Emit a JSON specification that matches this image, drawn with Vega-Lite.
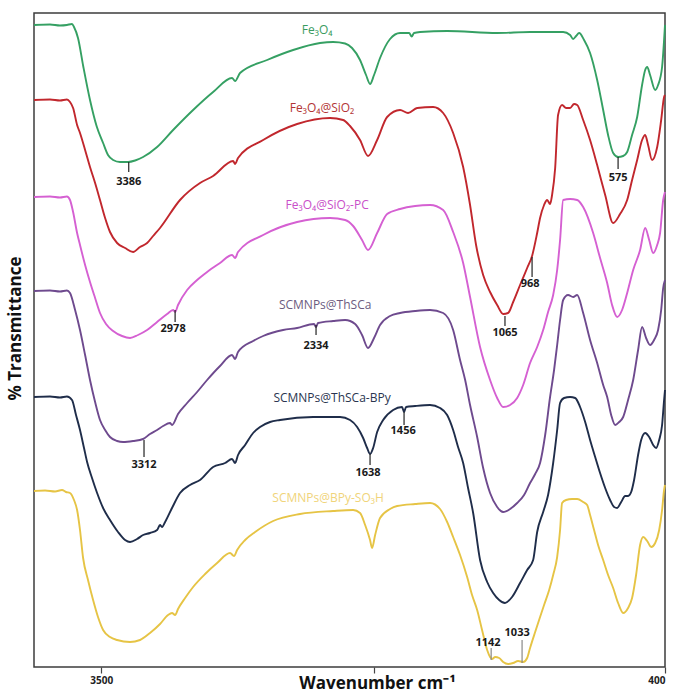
{
  "$schema": "https://vega.github.io/schema/vega-lite/v6.json",
  "width": 631,
  "height": 654,
  "autosize": "none",
  "padding": {"left": 34, "top": 13, "right": 10, "bottom": 26},
  "background": "white",
  "config": {"view": {"stroke": "#3c3c3c", "strokeWidth": 1.5}},
  "datasets": {
    "spectra": [
      {"s":"Fe3O4","w":3870,"t":128.4},{"s":"Fe3O4","w":3782,"t":128.5},{"s":"Fe3O4","w":3727,"t":128.3},{"s":"Fe3O4","w":3689,"t":128.4},{"s":"Fe3O4","w":3661,"t":128.6},{"s":"Fe3O4","w":3650,"t":128.0},{"s":"Fe3O4","w":3628,"t":125.8},{"s":"Fe3O4","w":3599,"t":120.1},{"s":"Fe3O4","w":3562,"t":113.4},{"s":"Fe3O4","w":3525,"t":108.1},{"s":"Fe3O4","w":3490,"t":104.8},{"s":"Fe3O4","w":3463,"t":102.4},{"s":"Fe3O4","w":3435,"t":101.4},{"s":"Fe3O4","w":3397,"t":101.0},{"s":"Fe3O4","w":3353,"t":101.0},{"s":"Fe3O4","w":3314,"t":101.3},{"s":"Fe3O4","w":3270,"t":102.0},{"s":"Fe3O4","w":3193,"t":104.0},{"s":"Fe3O4","w":3105,"t":107.4},{"s":"Fe3O4","w":2995,"t":111.4},{"s":"Fe3O4","w":2885,"t":115.0},{"s":"Fe3O4","w":2781,"t":117.8},{"s":"Fe3O4","w":2764,"t":117.2},{"s":"Fe3O4","w":2737,"t":118.8},{"s":"Fe3O4","w":2588,"t":121.4},{"s":"Fe3O4","w":2445,"t":123.4},{"s":"Fe3O4","w":2297,"t":124.8},{"s":"Fe3O4","w":2225,"t":125.0},{"s":"Fe3O4","w":2159,"t":124.7},{"s":"Fe3O4","w":2121,"t":123.8},{"s":"Fe3O4","w":2077,"t":121.4},{"s":"Fe3O4","w":2044,"t":118.4},{"s":"Fe3O4","w":2022,"t":116.6},{"s":"Fe3O4","w":2000,"t":118.4},{"s":"Fe3O4","w":1967,"t":121.8},{"s":"Fe3O4","w":1912,"t":125.6},{"s":"Fe3O4","w":1857,"t":126.8},{"s":"Fe3O4","w":1807,"t":126.8},{"s":"Fe3O4","w":1793,"t":126.1},{"s":"Fe3O4","w":1780,"t":126.8},{"s":"Fe3O4","w":1747,"t":127.0},{"s":"Fe3O4","w":1598,"t":127.2},{"s":"Fe3O4","w":1323,"t":126.8},{"s":"Fe3O4","w":1142,"t":127.0},{"s":"Fe3O4","w":960,"t":127.0},{"s":"Fe3O4","w":922,"t":126.4},{"s":"Fe3O4","w":905,"t":125.6},{"s":"Fe3O4","w":889,"t":126.2},{"s":"Fe3O4","w":872,"t":126.8},{"s":"Fe3O4","w":845,"t":125.4},{"s":"Fe3O4","w":812,"t":122.8},{"s":"Fe3O4","w":773,"t":117.4},{"s":"Fe3O4","w":740,"t":111.4},{"s":"Fe3O4","w":713,"t":106.4},{"s":"Fe3O4","w":685,"t":102.8},{"s":"Fe3O4","w":658,"t":102.0},{"s":"Fe3O4","w":630,"t":102.2},{"s":"Fe3O4","w":608,"t":103.0},{"s":"Fe3O4","w":581,"t":106.4},{"s":"Fe3O4","w":553,"t":110.0},{"s":"Fe3O4","w":526,"t":116.4},{"s":"Fe3O4","w":509,"t":119.4},{"s":"Fe3O4","w":498,"t":120.0},{"s":"Fe3O4","w":482,"t":118.4},{"s":"Fe3O4","w":454,"t":115.4},{"s":"Fe3O4","w":438,"t":116.4},{"s":"Fe3O4","w":416,"t":120.0},{"s":"Fe3O4","w":405,"t":125.4},{"s":"Fe3O4","w":400,"t":128.4},

      {"s":"Fe3O4@SiO2","w":3870,"t":113.4},{"s":"Fe3O4@SiO2","w":3782,"t":113.5},{"s":"Fe3O4@SiO2","w":3727,"t":113.3},{"s":"Fe3O4@SiO2","w":3689,"t":113.5},{"s":"Fe3O4@SiO2","w":3672,"t":113.0},{"s":"Fe3O4@SiO2","w":3655,"t":111.8},{"s":"Fe3O4@SiO2","w":3633,"t":108.4},{"s":"Fe3O4@SiO2","w":3617,"t":106.8},{"s":"Fe3O4@SiO2","w":3589,"t":103.4},{"s":"Fe3O4@SiO2","w":3562,"t":100.0},{"s":"Fe3O4@SiO2","w":3534,"t":96.8},{"s":"Fe3O4@SiO2","w":3507,"t":93.4},{"s":"Fe3O4@SiO2","w":3479,"t":89.8},{"s":"Fe3O4@SiO2","w":3452,"t":87.0},{"s":"Fe3O4@SiO2","w":3413,"t":84.8},{"s":"Fe3O4@SiO2","w":3369,"t":83.8},{"s":"Fe3O4@SiO2","w":3325,"t":83.0},{"s":"Fe3O4@SiO2","w":3287,"t":84.0},{"s":"Fe3O4@SiO2","w":3248,"t":84.8},{"s":"Fe3O4@SiO2","w":3215,"t":86.2},{"s":"Fe3O4@SiO2","w":3177,"t":87.8},{"s":"Fe3O4@SiO2","w":3067,"t":93.4},{"s":"Fe3O4@SiO2","w":2957,"t":96.8},{"s":"Fe3O4@SiO2","w":2885,"t":98.2},{"s":"Fe3O4@SiO2","w":2775,"t":101.2},{"s":"Fe3O4@SiO2","w":2764,"t":100.6},{"s":"Fe3O4@SiO2","w":2748,"t":101.8},{"s":"Fe3O4@SiO2","w":2610,"t":105.4},{"s":"Fe3O4@SiO2","w":2423,"t":108.6},{"s":"Fe3O4@SiO2","w":2242,"t":109.8},{"s":"Fe3O4@SiO2","w":2170,"t":109.4},{"s":"Fe3O4@SiO2","w":2132,"t":108.2},{"s":"Fe3O4@SiO2","w":2077,"t":105.4},{"s":"Fe3O4@SiO2","w":2033,"t":102.2},{"s":"Fe3O4@SiO2","w":1983,"t":105.4},{"s":"Fe3O4@SiO2","w":1928,"t":110.0},{"s":"Fe3O4@SiO2","w":1857,"t":111.4},{"s":"Fe3O4@SiO2","w":1813,"t":110.8},{"s":"Fe3O4@SiO2","w":1763,"t":111.8},{"s":"Fe3O4@SiO2","w":1675,"t":112.0},{"s":"Fe3O4@SiO2","w":1620,"t":110.8},{"s":"Fe3O4@SiO2","w":1565,"t":106.8},{"s":"Fe3O4@SiO2","w":1510,"t":100.0},{"s":"Fe3O4@SiO2","w":1472,"t":92.4},{"s":"Fe3O4@SiO2","w":1439,"t":84.4},{"s":"Fe3O4@SiO2","w":1400,"t":78.4},{"s":"Fe3O4@SiO2","w":1362,"t":75.0},{"s":"Fe3O4@SiO2","w":1323,"t":72.4},{"s":"Fe3O4@SiO2","w":1290,"t":70.6},{"s":"Fe3O4@SiO2","w":1263,"t":70.8},{"s":"Fe3O4@SiO2","w":1235,"t":73.0},{"s":"Fe3O4@SiO2","w":1197,"t":76.4},{"s":"Fe3O4@SiO2","w":1158,"t":79.8},{"s":"Fe3O4@SiO2","w":1131,"t":82.2},{"s":"Fe3O4@SiO2","w":1103,"t":86.8},{"s":"Fe3O4@SiO2","w":1087,"t":89.8},{"s":"Fe3O4@SiO2","w":1065,"t":92.4},{"s":"Fe3O4@SiO2","w":1048,"t":93.4},{"s":"Fe3O4@SiO2","w":1032,"t":92.6},{"s":"Fe3O4@SiO2","w":1021,"t":94.4},{"s":"Fe3O4@SiO2","w":1004,"t":99.8},{"s":"Fe3O4@SiO2","w":988,"t":110.4},{"s":"Fe3O4@SiO2","w":966,"t":112.4},{"s":"Fe3O4@SiO2","w":944,"t":111.8},{"s":"Fe3O4@SiO2","w":922,"t":111.8},{"s":"Fe3O4@SiO2","w":900,"t":112.6},{"s":"Fe3O4@SiO2","w":883,"t":112.4},{"s":"Fe3O4@SiO2","w":850,"t":109.4},{"s":"Fe3O4@SiO2","w":812,"t":105.4},{"s":"Fe3O4@SiO2","w":773,"t":100.4},{"s":"Fe3O4@SiO2","w":729,"t":94.4},{"s":"Fe3O4@SiO2","w":685,"t":88.8},{"s":"Fe3O4@SiO2","w":647,"t":90.6},{"s":"Fe3O4@SiO2","w":608,"t":93.4},{"s":"Fe3O4@SiO2","w":581,"t":97.4},{"s":"Fe3O4@SiO2","w":553,"t":101.4},{"s":"Fe3O4@SiO2","w":526,"t":105.4},{"s":"Fe3O4@SiO2","w":509,"t":106.4},{"s":"Fe3O4@SiO2","w":493,"t":104.4},{"s":"Fe3O4@SiO2","w":471,"t":101.4},{"s":"Fe3O4@SiO2","w":443,"t":104.0},{"s":"Fe3O4@SiO2","w":421,"t":109.4},{"s":"Fe3O4@SiO2","w":405,"t":114.0},{"s":"Fe3O4@SiO2","w":400,"t":114.4},

      {"s":"Fe3O4@SiO2-PC","w":3870,"t":94.0},{"s":"Fe3O4@SiO2-PC","w":3782,"t":94.1},{"s":"Fe3O4@SiO2-PC","w":3727,"t":93.9},{"s":"Fe3O4@SiO2-PC","w":3689,"t":94.1},{"s":"Fe3O4@SiO2-PC","w":3672,"t":93.4},{"s":"Fe3O4@SiO2-PC","w":3655,"t":91.0},{"s":"Fe3O4@SiO2-PC","w":3633,"t":86.8},{"s":"Fe3O4@SiO2-PC","w":3617,"t":84.4},{"s":"Fe3O4@SiO2-PC","w":3589,"t":80.4},{"s":"Fe3O4@SiO2-PC","w":3562,"t":77.0},{"s":"Fe3O4@SiO2-PC","w":3534,"t":73.8},{"s":"Fe3O4@SiO2-PC","w":3507,"t":70.8},{"s":"Fe3O4@SiO2-PC","w":3474,"t":68.6},{"s":"Fe3O4@SiO2-PC","w":3435,"t":67.2},{"s":"Fe3O4@SiO2-PC","w":3386,"t":66.2},{"s":"Fe3O4@SiO2-PC","w":3342,"t":65.8},{"s":"Fe3O4@SiO2-PC","w":3298,"t":66.4},{"s":"Fe3O4@SiO2-PC","w":3248,"t":67.4},{"s":"Fe3O4@SiO2-PC","w":3193,"t":69.0},{"s":"Fe3O4@SiO2-PC","w":3138,"t":70.6},{"s":"Fe3O4@SiO2-PC","w":3105,"t":71.4},{"s":"Fe3O4@SiO2-PC","w":3094,"t":71.0},{"s":"Fe3O4@SiO2-PC","w":3078,"t":72.4},{"s":"Fe3O4@SiO2-PC","w":3028,"t":75.4},{"s":"Fe3O4@SiO2-PC","w":2973,"t":77.4},{"s":"Fe3O4@SiO2-PC","w":2918,"t":79.0},{"s":"Fe3O4@SiO2-PC","w":2847,"t":80.8},{"s":"Fe3O4@SiO2-PC","w":2781,"t":82.4},{"s":"Fe3O4@SiO2-PC","w":2764,"t":81.8},{"s":"Fe3O4@SiO2-PC","w":2748,"t":83.0},{"s":"Fe3O4@SiO2-PC","w":2610,"t":86.4},{"s":"Fe3O4@SiO2-PC","w":2423,"t":89.0},{"s":"Fe3O4@SiO2-PC","w":2242,"t":89.8},{"s":"Fe3O4@SiO2-PC","w":2159,"t":89.4},{"s":"Fe3O4@SiO2-PC","w":2115,"t":88.2},{"s":"Fe3O4@SiO2-PC","w":2066,"t":85.4},{"s":"Fe3O4@SiO2-PC","w":2033,"t":83.4},{"s":"Fe3O4@SiO2-PC","w":1983,"t":86.8},{"s":"Fe3O4@SiO2-PC","w":1928,"t":90.6},{"s":"Fe3O4@SiO2-PC","w":1857,"t":91.6},{"s":"Fe3O4@SiO2-PC","w":1774,"t":92.2},{"s":"Fe3O4@SiO2-PC","w":1692,"t":92.4},{"s":"Fe3O4@SiO2-PC","w":1620,"t":91.4},{"s":"Fe3O4@SiO2-PC","w":1565,"t":87.0},{"s":"Fe3O4@SiO2-PC","w":1510,"t":80.8},{"s":"Fe3O4@SiO2-PC","w":1472,"t":74.0},{"s":"Fe3O4@SiO2-PC","w":1417,"t":64.0},{"s":"Fe3O4@SiO2-PC","w":1362,"t":57.4},{"s":"Fe3O4@SiO2-PC","w":1323,"t":53.8},{"s":"Fe3O4@SiO2-PC","w":1290,"t":52.0},{"s":"Fe3O4@SiO2-PC","w":1252,"t":52.4},{"s":"Fe3O4@SiO2-PC","w":1213,"t":53.8},{"s":"Fe3O4@SiO2-PC","w":1180,"t":56.4},{"s":"Fe3O4@SiO2-PC","w":1142,"t":60.8},{"s":"Fe3O4@SiO2-PC","w":1103,"t":64.0},{"s":"Fe3O4@SiO2-PC","w":1070,"t":67.4},{"s":"Fe3O4@SiO2-PC","w":1043,"t":71.0},{"s":"Fe3O4@SiO2-PC","w":1015,"t":74.4},{"s":"Fe3O4@SiO2-PC","w":993,"t":79.4},{"s":"Fe3O4@SiO2-PC","w":977,"t":85.4},{"s":"Fe3O4@SiO2-PC","w":960,"t":93.4},{"s":"Fe3O4@SiO2-PC","w":922,"t":93.6},{"s":"Fe3O4@SiO2-PC","w":883,"t":93.4},{"s":"Fe3O4@SiO2-PC","w":850,"t":92.0},{"s":"Fe3O4@SiO2-PC","w":795,"t":86.8},{"s":"Fe3O4@SiO2-PC","w":757,"t":81.8},{"s":"Fe3O4@SiO2-PC","w":718,"t":76.8},{"s":"Fe3O4@SiO2-PC","w":691,"t":72.4},{"s":"Fe3O4@SiO2-PC","w":663,"t":70.0},{"s":"Fe3O4@SiO2-PC","w":636,"t":71.4},{"s":"Fe3O4@SiO2-PC","w":608,"t":74.8},{"s":"Fe3O4@SiO2-PC","w":575,"t":79.4},{"s":"Fe3O4@SiO2-PC","w":537,"t":83.4},{"s":"Fe3O4@SiO2-PC","w":509,"t":87.8},{"s":"Fe3O4@SiO2-PC","w":487,"t":85.4},{"s":"Fe3O4@SiO2-PC","w":465,"t":82.8},{"s":"Fe3O4@SiO2-PC","w":443,"t":84.4},{"s":"Fe3O4@SiO2-PC","w":427,"t":86.8},{"s":"Fe3O4@SiO2-PC","w":410,"t":93.4},{"s":"Fe3O4@SiO2-PC","w":400,"t":95.0},

      {"s":"SCMNPs@ThSCa","w":3870,"t":75.2},{"s":"SCMNPs@ThSCa","w":3782,"t":75.3},{"s":"SCMNPs@ThSCa","w":3727,"t":75.1},{"s":"SCMNPs@ThSCa","w":3689,"t":75.3},{"s":"SCMNPs@ThSCa","w":3672,"t":74.8},{"s":"SCMNPs@ThSCa","w":3644,"t":71.4},{"s":"SCMNPs@ThSCa","w":3617,"t":67.4},{"s":"SCMNPs@ThSCa","w":3589,"t":62.4},{"s":"SCMNPs@ThSCa","w":3562,"t":57.4},{"s":"SCMNPs@ThSCa","w":3534,"t":53.0},{"s":"SCMNPs@ThSCa","w":3507,"t":49.4},{"s":"SCMNPs@ThSCa","w":3479,"t":47.4},{"s":"SCMNPs@ThSCa","w":3452,"t":46.0},{"s":"SCMNPs@ThSCa","w":3413,"t":45.2},{"s":"SCMNPs@ThSCa","w":3380,"t":45.0},{"s":"SCMNPs@ThSCa","w":3325,"t":45.2},{"s":"SCMNPs@ThSCa","w":3270,"t":45.6},{"s":"SCMNPs@ThSCa","w":3232,"t":46.6},{"s":"SCMNPs@ThSCa","w":3193,"t":47.4},{"s":"SCMNPs@ThSCa","w":3160,"t":48.2},{"s":"SCMNPs@ThSCa","w":3122,"t":48.8},{"s":"SCMNPs@ThSCa","w":3111,"t":48.4},{"s":"SCMNPs@ThSCa","w":3078,"t":50.6},{"s":"SCMNPs@ThSCa","w":3028,"t":52.8},{"s":"SCMNPs@ThSCa","w":2973,"t":55.0},{"s":"SCMNPs@ThSCa","w":2918,"t":57.4},{"s":"SCMNPs@ThSCa","w":2847,"t":60.2},{"s":"SCMNPs@ThSCa","w":2781,"t":62.4},{"s":"SCMNPs@ThSCa","w":2764,"t":61.6},{"s":"SCMNPs@ThSCa","w":2748,"t":63.0},{"s":"SCMNPs@ThSCa","w":2665,"t":65.2},{"s":"SCMNPs@ThSCa","w":2610,"t":66.2},{"s":"SCMNPs@ThSCa","w":2500,"t":67.4},{"s":"SCMNPs@ThSCa","w":2423,"t":67.8},{"s":"SCMNPs@ThSCa","w":2330,"t":68.6},{"s":"SCMNPs@ThSCa","w":2319,"t":68.0},{"s":"SCMNPs@ThSCa","w":2308,"t":68.8},{"s":"SCMNPs@ThSCa","w":2225,"t":69.2},{"s":"SCMNPs@ThSCa","w":2159,"t":69.4},{"s":"SCMNPs@ThSCa","w":2104,"t":68.6},{"s":"SCMNPs@ThSCa","w":2066,"t":66.4},{"s":"SCMNPs@ThSCa","w":2033,"t":63.8},{"s":"SCMNPs@ThSCa","w":2000,"t":65.8},{"s":"SCMNPs@ThSCa","w":1967,"t":68.4},{"s":"SCMNPs@ThSCa","w":1912,"t":70.2},{"s":"SCMNPs@ThSCa","w":1857,"t":70.8},{"s":"SCMNPs@ThSCa","w":1774,"t":71.2},{"s":"SCMNPs@ThSCa","w":1692,"t":71.4},{"s":"SCMNPs@ThSCa","w":1620,"t":70.8},{"s":"SCMNPs@ThSCa","w":1565,"t":67.4},{"s":"SCMNPs@ThSCa","w":1527,"t":61.4},{"s":"SCMNPs@ThSCa","w":1499,"t":57.4},{"s":"SCMNPs@ThSCa","w":1472,"t":52.4},{"s":"SCMNPs@ThSCa","w":1433,"t":46.0},{"s":"SCMNPs@ThSCa","w":1400,"t":39.8},{"s":"SCMNPs@ThSCa","w":1362,"t":34.8},{"s":"SCMNPs@ThSCa","w":1323,"t":32.0},{"s":"SCMNPs@ThSCa","w":1290,"t":31.0},{"s":"SCMNPs@ThSCa","w":1252,"t":31.6},{"s":"SCMNPs@ThSCa","w":1213,"t":32.8},{"s":"SCMNPs@ThSCa","w":1175,"t":34.4},{"s":"SCMNPs@ThSCa","w":1142,"t":36.8},{"s":"SCMNPs@ThSCa","w":1114,"t":38.6},{"s":"SCMNPs@ThSCa","w":1087,"t":40.8},{"s":"SCMNPs@ThSCa","w":1059,"t":46.4},{"s":"SCMNPs@ThSCa","w":1032,"t":54.0},{"s":"SCMNPs@ThSCa","w":1010,"t":59.4},{"s":"SCMNPs@ThSCa","w":993,"t":64.4},{"s":"SCMNPs@ThSCa","w":977,"t":69.4},{"s":"SCMNPs@ThSCa","w":960,"t":73.4},{"s":"SCMNPs@ThSCa","w":933,"t":74.4},{"s":"SCMNPs@ThSCa","w":905,"t":74.0},{"s":"SCMNPs@ThSCa","w":883,"t":74.4},{"s":"SCMNPs@ThSCa","w":850,"t":70.8},{"s":"SCMNPs@ThSCa","w":812,"t":65.4},{"s":"SCMNPs@ThSCa","w":773,"t":60.8},{"s":"SCMNPs@ThSCa","w":740,"t":56.4},{"s":"SCMNPs@ThSCa","w":718,"t":54.0},{"s":"SCMNPs@ThSCa","w":696,"t":50.4},{"s":"SCMNPs@ThSCa","w":674,"t":48.4},{"s":"SCMNPs@ThSCa","w":652,"t":49.0},{"s":"SCMNPs@ThSCa","w":630,"t":50.0},{"s":"SCMNPs@ThSCa","w":603,"t":53.4},{"s":"SCMNPs@ThSCa","w":575,"t":57.4},{"s":"SCMNPs@ThSCa","w":548,"t":63.4},{"s":"SCMNPs@ThSCa","w":526,"t":68.0},{"s":"SCMNPs@ThSCa","w":504,"t":65.8},{"s":"SCMNPs@ThSCa","w":482,"t":64.4},{"s":"SCMNPs@ThSCa","w":460,"t":65.4},{"s":"SCMNPs@ThSCa","w":438,"t":67.4},{"s":"SCMNPs@ThSCa","w":421,"t":71.4},{"s":"SCMNPs@ThSCa","w":410,"t":75.8},{"s":"SCMNPs@ThSCa","w":400,"t":77.4},

      {"s":"SCMNPs@ThSCa-BPy","w":3870,"t":54.0},{"s":"SCMNPs@ThSCa-BPy","w":3782,"t":54.1},{"s":"SCMNPs@ThSCa-BPy","w":3727,"t":53.9},{"s":"SCMNPs@ThSCa-BPy","w":3689,"t":54.1},{"s":"SCMNPs@ThSCa-BPy","w":3661,"t":53.4},{"s":"SCMNPs@ThSCa-BPy","w":3639,"t":50.4},{"s":"SCMNPs@ThSCa-BPy","w":3617,"t":47.4},{"s":"SCMNPs@ThSCa-BPy","w":3595,"t":43.8},{"s":"SCMNPs@ThSCa-BPy","w":3578,"t":41.0},{"s":"SCMNPs@ThSCa-BPy","w":3551,"t":37.8},{"s":"SCMNPs@ThSCa-BPy","w":3523,"t":34.8},{"s":"SCMNPs@ThSCa-BPy","w":3490,"t":31.8},{"s":"SCMNPs@ThSCa-BPy","w":3452,"t":29.4},{"s":"SCMNPs@ThSCa-BPy","w":3408,"t":27.0},{"s":"SCMNPs@ThSCa-BPy","w":3369,"t":25.4},{"s":"SCMNPs@ThSCa-BPy","w":3342,"t":25.0},{"s":"SCMNPs@ThSCa-BPy","w":3303,"t":25.6},{"s":"SCMNPs@ThSCa-BPy","w":3270,"t":26.4},{"s":"SCMNPs@ThSCa-BPy","w":3232,"t":26.8},{"s":"SCMNPs@ThSCa-BPy","w":3193,"t":27.4},{"s":"SCMNPs@ThSCa-BPy","w":3177,"t":28.4},{"s":"SCMNPs@ThSCa-BPy","w":3166,"t":28.0},{"s":"SCMNPs@ThSCa-BPy","w":3149,"t":29.0},{"s":"SCMNPs@ThSCa-BPy","w":3111,"t":31.8},{"s":"SCMNPs@ThSCa-BPy","w":3067,"t":34.8},{"s":"SCMNPs@ThSCa-BPy","w":3012,"t":36.4},{"s":"SCMNPs@ThSCa-BPy","w":2957,"t":37.4},{"s":"SCMNPs@ThSCa-BPy","w":2885,"t":40.0},{"s":"SCMNPs@ThSCa-BPy","w":2819,"t":40.8},{"s":"SCMNPs@ThSCa-BPy","w":2781,"t":41.6},{"s":"SCMNPs@ThSCa-BPy","w":2764,"t":40.8},{"s":"SCMNPs@ThSCa-BPy","w":2748,"t":42.4},{"s":"SCMNPs@ThSCa-BPy","w":2709,"t":44.4},{"s":"SCMNPs@ThSCa-BPy","w":2665,"t":46.8},{"s":"SCMNPs@ThSCa-BPy","w":2627,"t":48.0},{"s":"SCMNPs@ThSCa-BPy","w":2572,"t":49.0},{"s":"SCMNPs@ThSCa-BPy","w":2517,"t":49.4},{"s":"SCMNPs@ThSCa-BPy","w":2335,"t":50.0},{"s":"SCMNPs@ThSCa-BPy","w":2187,"t":50.0},{"s":"SCMNPs@ThSCa-BPy","w":2132,"t":49.4},{"s":"SCMNPs@ThSCa-BPy","w":2093,"t":48.0},{"s":"SCMNPs@ThSCa-BPy","w":2060,"t":45.8},{"s":"SCMNPs@ThSCa-BPy","w":2038,"t":43.8},{"s":"SCMNPs@ThSCa-BPy","w":2022,"t":42.6},{"s":"SCMNPs@ThSCa-BPy","w":2005,"t":43.8},{"s":"SCMNPs@ThSCa-BPy","w":1983,"t":47.0},{"s":"SCMNPs@ThSCa-BPy","w":1950,"t":49.4},{"s":"SCMNPs@ThSCa-BPy","w":1895,"t":51.4},{"s":"SCMNPs@ThSCa-BPy","w":1846,"t":52.0},{"s":"SCMNPs@ThSCa-BPy","w":1835,"t":51.0},{"s":"SCMNPs@ThSCa-BPy","w":1824,"t":52.0},{"s":"SCMNPs@ThSCa-BPy","w":1774,"t":52.2},{"s":"SCMNPs@ThSCa-BPy","w":1692,"t":52.4},{"s":"SCMNPs@ThSCa-BPy","w":1637,"t":51.8},{"s":"SCMNPs@ThSCa-BPy","w":1598,"t":50.4},{"s":"SCMNPs@ThSCa-BPy","w":1565,"t":47.4},{"s":"SCMNPs@ThSCa-BPy","w":1538,"t":44.0},{"s":"SCMNPs@ThSCa-BPy","w":1510,"t":40.8},{"s":"SCMNPs@ThSCa-BPy","w":1483,"t":35.8},{"s":"SCMNPs@ThSCa-BPy","w":1455,"t":30.8},{"s":"SCMNPs@ThSCa-BPy","w":1417,"t":21.4},{"s":"SCMNPs@ThSCa-BPy","w":1378,"t":17.0},{"s":"SCMNPs@ThSCa-BPy","w":1345,"t":14.8},{"s":"SCMNPs@ThSCa-BPy","w":1312,"t":13.4},{"s":"SCMNPs@ThSCa-BPy","w":1280,"t":12.8},{"s":"SCMNPs@ThSCa-BPy","w":1241,"t":14.0},{"s":"SCMNPs@ThSCa-BPy","w":1197,"t":16.8},{"s":"SCMNPs@ThSCa-BPy","w":1158,"t":19.4},{"s":"SCMNPs@ThSCa-BPy","w":1125,"t":21.4},{"s":"SCMNPs@ThSCa-BPy","w":1103,"t":27.0},{"s":"SCMNPs@ThSCa-BPy","w":1070,"t":31.0},{"s":"SCMNPs@ThSCa-BPy","w":1043,"t":34.4},{"s":"SCMNPs@ThSCa-BPy","w":1015,"t":40.8},{"s":"SCMNPs@ThSCa-BPy","w":993,"t":47.4},{"s":"SCMNPs@ThSCa-BPy","w":977,"t":52.8},{"s":"SCMNPs@ThSCa-BPy","w":955,"t":53.8},{"s":"SCMNPs@ThSCa-BPy","w":922,"t":54.0},{"s":"SCMNPs@ThSCa-BPy","w":894,"t":53.8},{"s":"SCMNPs@ThSCa-BPy","w":867,"t":52.0},{"s":"SCMNPs@ThSCa-BPy","w":839,"t":49.0},{"s":"SCMNPs@ThSCa-BPy","w":812,"t":45.4},{"s":"SCMNPs@ThSCa-BPy","w":784,"t":42.0},{"s":"SCMNPs@ThSCa-BPy","w":757,"t":38.8},{"s":"SCMNPs@ThSCa-BPy","w":729,"t":35.8},{"s":"SCMNPs@ThSCa-BPy","w":702,"t":33.4},{"s":"SCMNPs@ThSCa-BPy","w":680,"t":32.0},{"s":"SCMNPs@ThSCa-BPy","w":663,"t":31.8},{"s":"SCMNPs@ThSCa-BPy","w":641,"t":33.0},{"s":"SCMNPs@ThSCa-BPy","w":619,"t":34.2},{"s":"SCMNPs@ThSCa-BPy","w":603,"t":34.2},{"s":"SCMNPs@ThSCa-BPy","w":586,"t":35.0},{"s":"SCMNPs@ThSCa-BPy","w":570,"t":37.4},{"s":"SCMNPs@ThSCa-BPy","w":548,"t":42.4},{"s":"SCMNPs@ThSCa-BPy","w":531,"t":45.4},{"s":"SCMNPs@ThSCa-BPy","w":509,"t":46.8},{"s":"SCMNPs@ThSCa-BPy","w":487,"t":46.0},{"s":"SCMNPs@ThSCa-BPy","w":465,"t":44.4},{"s":"SCMNPs@ThSCa-BPy","w":449,"t":43.8},{"s":"SCMNPs@ThSCa-BPy","w":432,"t":45.4},{"s":"SCMNPs@ThSCa-BPy","w":416,"t":48.4},{"s":"SCMNPs@ThSCa-BPy","w":405,"t":53.4},{"s":"SCMNPs@ThSCa-BPy","w":400,"t":55.4},

      {"s":"SCMNPs@BPy-SO3H","w":3870,"t":35.2},{"s":"SCMNPs@BPy-SO3H","w":3809,"t":35.3},{"s":"SCMNPs@BPy-SO3H","w":3754,"t":35.1},{"s":"SCMNPs@BPy-SO3H","w":3716,"t":35.4},{"s":"SCMNPs@BPy-SO3H","w":3694,"t":35.0},{"s":"SCMNPs@BPy-SO3H","w":3672,"t":34.8},{"s":"SCMNPs@BPy-SO3H","w":3650,"t":33.4},{"s":"SCMNPs@BPy-SO3H","w":3633,"t":31.4},{"s":"SCMNPs@BPy-SO3H","w":3617,"t":27.4},{"s":"SCMNPs@BPy-SO3H","w":3600,"t":21.8},{"s":"SCMNPs@BPy-SO3H","w":3573,"t":17.4},{"s":"SCMNPs@BPy-SO3H","w":3545,"t":13.4},{"s":"SCMNPs@BPy-SO3H","w":3518,"t":10.0},{"s":"SCMNPs@BPy-SO3H","w":3490,"t":7.4},{"s":"SCMNPs@BPy-SO3H","w":3452,"t":6.0},{"s":"SCMNPs@BPy-SO3H","w":3413,"t":5.4},{"s":"SCMNPs@BPy-SO3H","w":3342,"t":5.0},{"s":"SCMNPs@BPy-SO3H","w":3287,"t":5.4},{"s":"SCMNPs@BPy-SO3H","w":3232,"t":6.8},{"s":"SCMNPs@BPy-SO3H","w":3177,"t":8.6},{"s":"SCMNPs@BPy-SO3H","w":3133,"t":10.4},{"s":"SCMNPs@BPy-SO3H","w":3111,"t":10.8},{"s":"SCMNPs@BPy-SO3H","w":3094,"t":10.4},{"s":"SCMNPs@BPy-SO3H","w":3078,"t":11.6},{"s":"SCMNPs@BPy-SO3H","w":3039,"t":13.8},{"s":"SCMNPs@BPy-SO3H","w":2995,"t":16.0},{"s":"SCMNPs@BPy-SO3H","w":2929,"t":18.6},{"s":"SCMNPs@BPy-SO3H","w":2863,"t":20.8},{"s":"SCMNPs@BPy-SO3H","w":2792,"t":22.8},{"s":"SCMNPs@BPy-SO3H","w":2770,"t":22.2},{"s":"SCMNPs@BPy-SO3H","w":2753,"t":23.4},{"s":"SCMNPs@BPy-SO3H","w":2709,"t":25.4},{"s":"SCMNPs@BPy-SO3H","w":2654,"t":27.0},{"s":"SCMNPs@BPy-SO3H","w":2555,"t":29.2},{"s":"SCMNPs@BPy-SO3H","w":2407,"t":30.6},{"s":"SCMNPs@BPy-SO3H","w":2225,"t":31.2},{"s":"SCMNPs@BPy-SO3H","w":2115,"t":31.4},{"s":"SCMNPs@BPy-SO3H","w":2077,"t":30.8},{"s":"SCMNPs@BPy-SO3H","w":2049,"t":28.4},{"s":"SCMNPs@BPy-SO3H","w":2022,"t":25.4},{"s":"SCMNPs@BPy-SO3H","w":2011,"t":23.8},{"s":"SCMNPs@BPy-SO3H","w":1994,"t":26.4},{"s":"SCMNPs@BPy-SO3H","w":1967,"t":29.8},{"s":"SCMNPs@BPy-SO3H","w":1912,"t":31.6},{"s":"SCMNPs@BPy-SO3H","w":1873,"t":32.2},{"s":"SCMNPs@BPy-SO3H","w":1774,"t":32.6},{"s":"SCMNPs@BPy-SO3H","w":1692,"t":32.8},{"s":"SCMNPs@BPy-SO3H","w":1637,"t":31.6},{"s":"SCMNPs@BPy-SO3H","w":1598,"t":29.0},{"s":"SCMNPs@BPy-SO3H","w":1565,"t":26.0},{"s":"SCMNPs@BPy-SO3H","w":1527,"t":22.4},{"s":"SCMNPs@BPy-SO3H","w":1488,"t":18.0},{"s":"SCMNPs@BPy-SO3H","w":1461,"t":14.4},{"s":"SCMNPs@BPy-SO3H","w":1433,"t":11.4},{"s":"SCMNPs@BPy-SO3H","w":1406,"t":7.4},{"s":"SCMNPs@BPy-SO3H","w":1378,"t":3.4},{"s":"SCMNPs@BPy-SO3H","w":1362,"t":2.0},{"s":"SCMNPs@BPy-SO3H","w":1351,"t":1.6},{"s":"SCMNPs@BPy-SO3H","w":1334,"t":2.0},{"s":"SCMNPs@BPy-SO3H","w":1312,"t":1.8},{"s":"SCMNPs@BPy-SO3H","w":1290,"t":1.0},{"s":"SCMNPs@BPy-SO3H","w":1263,"t":0.6},{"s":"SCMNPs@BPy-SO3H","w":1235,"t":0.8},{"s":"SCMNPs@BPy-SO3H","w":1208,"t":1.2},{"s":"SCMNPs@BPy-SO3H","w":1180,"t":1.0},{"s":"SCMNPs@BPy-SO3H","w":1158,"t":1.8},{"s":"SCMNPs@BPy-SO3H","w":1142,"t":3.8},{"s":"SCMNPs@BPy-SO3H","w":1114,"t":7.0},{"s":"SCMNPs@BPy-SO3H","w":1087,"t":10.0},{"s":"SCMNPs@BPy-SO3H","w":1065,"t":12.4},{"s":"SCMNPs@BPy-SO3H","w":1037,"t":15.4},{"s":"SCMNPs@BPy-SO3H","w":1015,"t":18.4},{"s":"SCMNPs@BPy-SO3H","w":993,"t":22.0},{"s":"SCMNPs@BPy-SO3H","w":977,"t":27.4},{"s":"SCMNPs@BPy-SO3H","w":966,"t":32.8},{"s":"SCMNPs@BPy-SO3H","w":944,"t":33.4},{"s":"SCMNPs@BPy-SO3H","w":911,"t":33.6},{"s":"SCMNPs@BPy-SO3H","w":883,"t":33.6},{"s":"SCMNPs@BPy-SO3H","w":850,"t":33.0},{"s":"SCMNPs@BPy-SO3H","w":828,"t":32.4},{"s":"SCMNPs@BPy-SO3H","w":812,"t":30.4},{"s":"SCMNPs@BPy-SO3H","w":790,"t":27.4},{"s":"SCMNPs@BPy-SO3H","w":768,"t":24.4},{"s":"SCMNPs@BPy-SO3H","w":740,"t":21.4},{"s":"SCMNPs@BPy-SO3H","w":713,"t":18.4},{"s":"SCMNPs@BPy-SO3H","w":685,"t":15.8},{"s":"SCMNPs@BPy-SO3H","w":658,"t":12.8},{"s":"SCMNPs@BPy-SO3H","w":630,"t":10.8},{"s":"SCMNPs@BPy-SO3H","w":603,"t":11.8},{"s":"SCMNPs@BPy-SO3H","w":581,"t":13.8},{"s":"SCMNPs@BPy-SO3H","w":559,"t":18.4},{"s":"SCMNPs@BPy-SO3H","w":537,"t":24.4},{"s":"SCMNPs@BPy-SO3H","w":520,"t":26.0},{"s":"SCMNPs@BPy-SO3H","w":498,"t":25.2},{"s":"SCMNPs@BPy-SO3H","w":476,"t":24.0},{"s":"SCMNPs@BPy-SO3H","w":454,"t":24.8},{"s":"SCMNPs@BPy-SO3H","w":432,"t":27.4},{"s":"SCMNPs@BPy-SO3H","w":416,"t":31.4},{"s":"SCMNPs@BPy-SO3H","w":405,"t":35.4},{"s":"SCMNPs@BPy-SO3H","w":400,"t":36.4}
    ],
    "names": [
      {"s":"Fe3O4","name":"Fe₃O₄","w":2313,"t":127.4},
      {"s":"Fe3O4@SiO2","name":"Fe₃O₄@SiO₂","w":2286,"t":111.8},
      {"s":"Fe3O4@SiO2-PC","name":"Fe₃O₄@SiO₂-PC","w":2258,"t":92.4},
      {"s":"SCMNPs@ThSCa","name":"SCMNPs@ThSCa","w":2269,"t":72.4},
      {"s":"SCMNPs@ThSCa-BPy","name":"SCMNPs@ThSCa-BPy","w":2231,"t":53.8},
      {"s":"SCMNPs@BPy-SO3H","name":"SCMNPs@BPy-SO₃H","w":2253,"t":33.8}
    ],
    "peaks": [
      {"peak":"3386","w":3349,"top":101.0,"bot":99.0,"lw":3349,"lt":97.0},
      {"peak":"575","w":658,"top":102.0,"bot":99.6,"lw":658,"lt":97.8},
      {"peak":"968","w":1131,"top":82.0,"bot":78.0,"lw":1142,"lt":76.6},
      {"peak":"1065","w":1280,"top":70.2,"bot":68.2,"lw":1280,"lt":66.8},
      {"peak":"2978","w":3094,"top":71.4,"bot":69.0,"lw":3105,"lt":67.6},
      {"peak":"2334","w":2319,"top":68.4,"bot":66.4,"lw":2319,"lt":64.2},
      {"peak":"3312","w":3265,"top":45.4,"bot":42.0,"lw":3265,"lt":40.4},
      {"peak":"1638","w":2022,"top":42.6,"bot":40.4,"lw":2033,"lt":38.8},
      {"peak":"1456","w":1835,"top":51.0,"bot":48.4,"lw":1840,"lt":47.2},
      {"peak":"1142","w":1356,"top":3.8,"bot":1.4,"lw":1373,"lt":4.8},
      {"peak":"1033","w":1186,"top":5.4,"bot":0.8,"lw":1213,"lt":6.8}
    ]
  },
  "layer": [
    {
      "data": {"name": "spectra"},
      "mark": {"type": "line", "strokeWidth": 1.9, "interpolate": "monotone"},
      "encoding": {
        "x": {"field": "w", "type": "quantitative",
              "scale": {"domain": [3870, 400], "nice": false, "zero": false},
              "axis": {"values": [3500, 2000, 400], "domain": false, "grid": false, "format": "d",
                       "tickColor": "#444", "tickSize": 6, "tickWidth": 1.2,
                       "labelExpr": "datum.value == 2000 ? '' : datum.label",
                       "labelFont": "Open Sans", "labelFontSize": 10, "labelFontWeight": "bold",
                       "labelColor": "#222", "labelPadding": 2,
                       "title": "Wavenumber cm⁻¹", "titleFont": "Open Sans", "titleFontSize": 17,
                       "titleFontWeight": "bold", "titleColor": "#111",
                       "titleX": 343, "titleY": 21, "titleBaseline": "alphabetic", "titleAlign": "center"}},
        "y": {"field": "t", "type": "quantitative",
              "scale": {"domain": [0, 130.8], "nice": false, "zero": false},
              "axis": {"labels": false, "ticks": false, "domain": false, "grid": false,
                       "title": "% Transmittance", "titleFont": "Open Sans", "titleFontSize": 17,
                       "titleFontWeight": "bold", "titleColor": "#111",
                       "titleX": -19, "titleY": 315, "titleAngle": -90,
                       "titleBaseline": "middle", "titleAlign": "center"}},
        "color": {"field": "s", "type": "nominal", "legend": null,
                  "scale": {"domain": ["Fe3O4","Fe3O4@SiO2","Fe3O4@SiO2-PC","SCMNPs@ThSCa","SCMNPs@ThSCa-BPy","SCMNPs@BPy-SO3H"],
                            "range": ["#35a063","#c1272d","#d560d2","#6e4a8e","#1f2d4a","#e6c445"]}},
        "detail": {"field": "s"},
        "order": {"field": "w", "sort": "descending"}
      }
    },
    {
      "data": {"name": "names"},
      "mark": {"type": "text", "font": "Open Sans", "fontSize": 12, "align": "center", "baseline": "middle"},
      "encoding": {
        "x": {"field": "w", "type": "quantitative"},
        "y": {"field": "t", "type": "quantitative"},
        "text": {"field": "name"},
        "color": {"field": "s", "type": "nominal", "legend": null,
                  "scale": {"domain": ["Fe3O4","Fe3O4@SiO2","Fe3O4@SiO2-PC","SCMNPs@ThSCa","SCMNPs@ThSCa-BPy","SCMNPs@BPy-SO3H"],
                            "range": ["#3a9c5f","#b33535","#c94fc9","#6c5b80","#2a3550","#f0d47a"]}}
      }
    },
    {
      "data": {"name": "peaks"},
      "mark": {"type": "rule", "strokeWidth": 1.2},
      "encoding": {
        "x": {"field": "w", "type": "quantitative"},
        "y": {"field": "top", "type": "quantitative"},
        "y2": {"field": "bot"},
        "color": {"condition": {"test": "datum.peak == '1142' || datum.peak == '1033'", "value": "#888888"}, "value": "#222222"}
      }
    },
    {
      "data": {"name": "peaks"},
      "mark": {"type": "text", "font": "Open Sans", "fontSize": 11, "fontWeight": "bold", "align": "center", "baseline": "middle", "color": "#1a1a1a"},
      "encoding": {
        "x": {"field": "lw", "type": "quantitative"},
        "y": {"field": "lt", "type": "quantitative"},
        "text": {"field": "peak"}
      }
    }
  ],
  "resolve": {"scale": {"color": "independent"}}
}
